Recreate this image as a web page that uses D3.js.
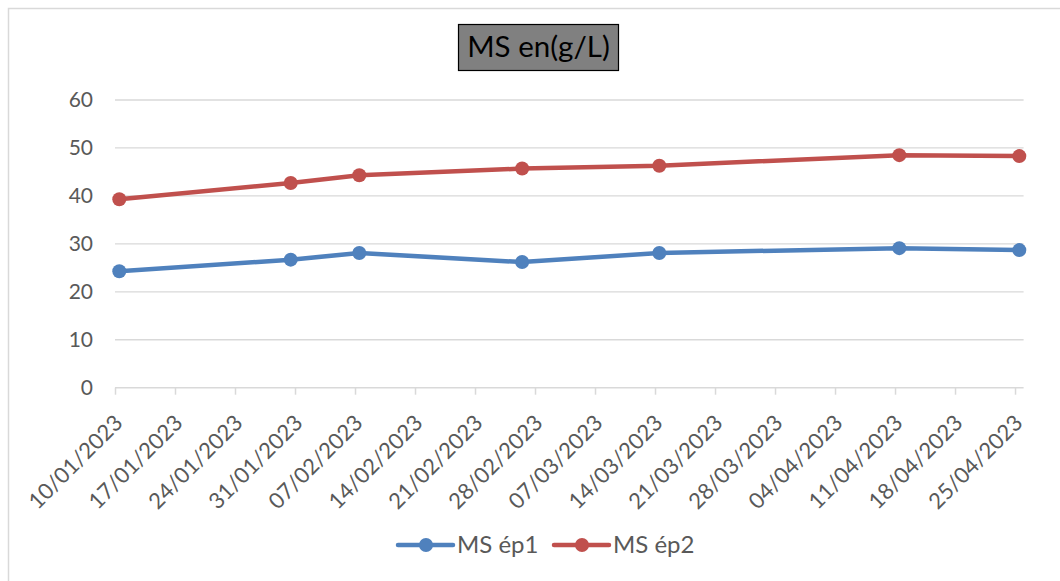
<!DOCTYPE html>
<html>
<head>
<meta charset="utf-8">
<script src="https://cdn.jsdelivr.net/npm/d3@7"></script>
<style>
  body { margin: 0; background: #fff; }
  text { font-family: Lato, "Open Sans", sans-serif; }
</style>
</head>
<body>
<script>
// data
const dates = ['2023-01-10', '2023-01-30', '2023-02-07', '2023-02-26', '2023-03-14', '2023-04-11', '2023-04-25'];
const ms1 = [24.3, 26.7, 28.1, 26.2, 28.1, 29.1, 28.7];
const ms2 = [39.3, 42.7, 44.3, 45.7, 46.3, 48.5, 48.3];
const seriesNames = ['MS ép1', 'MS ép2'];
const seriesColors = ['#4f81bd', '#c0504d'];
const yTicks = [0, 10, 20, 30, 40, 50, 60];
const chartTitle = 'MS en(g/L)';

const W = 1060, H = 581;
const parse = d3.utcParse('%Y-%m-%d');
const fmt = d3.utcFormat('%d/%m/%Y');
const day = 86400000;

const svg = d3.select('body').append('svg')
  .attr('width', W).attr('height', H);

// chart area border
svg.append('rect')
  .attr('x', 8.5).attr('y', 8.5)
  .attr('width', 1100).attr('height', 700)
  .attr('fill', 'none').attr('stroke', '#d9d9d9').attr('stroke-width', 1.5);

const x0 = parse('2023-01-10');
const x1 = new Date(parse('2023-04-25').getTime() + day);
const x = d3.scaleUtc().domain([x0, x1]).range([115, 1023.6]);
const y = d3.scaleLinear().domain([0, 60]).range([387.7, 100]);

// gridlines
svg.append('g')
  .selectAll('line')
  .data(yTicks.slice(1))
  .join('line')
  .attr('x1', 115).attr('x2', 1023.6)
  .attr('y1', d => y(d)).attr('y2', d => y(d))
  .attr('stroke', '#d9d9d9').attr('stroke-width', 1.3);

// y labels
const yAxis = d3.axisLeft(y).tickValues(yTicks).tickSize(0).tickPadding(22);
svg.append('g')
  .attr('transform', 'translate(115,0)')
  .call(yAxis)
  .call(g => g.select('.domain').remove())
  .call(g => g.selectAll('text')
    .attr('fill', '#595959')
    .style('font-size', '21px')
    .style('font-family', 'Lato'));

// x axis, weekly ticks
const weekTicks = d3.utcDay.range(x0, x1, 7);
const xAxis = d3.axisBottom(x).tickValues(weekTicks).tickSize(7).tickFormat(fmt);
svg.append('g')
  .attr('transform', 'translate(0,' + y(0) + ')')
  .call(xAxis)
  .call(g => g.select('.domain').attr('stroke', '#d9d9d9').attr('stroke-width', 1.5)
    .attr('d', 'M115,0H1023.6'))
  .call(g => g.selectAll('.tick line').attr('stroke', '#d9d9d9').attr('stroke-width', 1.5))
  .call(g => g.selectAll('.tick text')
    .attr('fill', '#595959')
    .style('font-size', '22px')
    .style('font-family', 'Lato')
    .attr('text-anchor', 'end')
    .attr('x', 0).attr('y', 0).attr('dy', '0.35em')
    .attr('transform', 'translate(3,31) rotate(-45)'));

// lines
const mid = d => new Date(parse(d).getTime() + day / 2);
[ms1, ms2].forEach((vals, i) => {
  const pts = dates.map((d, j) => [mid(d), vals[j]]);
  svg.append('path')
    .datum(pts)
    .attr('fill', 'none')
    .attr('stroke', seriesColors[i])
    .attr('stroke-width', 4.5)
    .attr('stroke-linejoin', 'round')
    .attr('d', d3.line().x(p => x(p[0])).y(p => y(p[1])));
  svg.append('g')
    .selectAll('circle')
    .data(pts)
    .join('circle')
    .attr('cx', p => x(p[0])).attr('cy', p => y(p[1]))
    .attr('r', 7)
    .attr('fill', seriesColors[i]);
});

// title box
const tg = svg.append('g');
tg.append('rect')
  .attr('x', 458.5).attr('y', 24.5).attr('width', 160).attr('height', 46)
  .attr('fill', '#808080').attr('stroke', '#000').attr('stroke-width', 1.2);
tg.append('text')
  .attr('x', 538.5).attr('y', 47).attr('dy', '0.35em')
  .attr('text-anchor', 'middle')
  .attr('fill', '#000')
  .style('font-size', '29.5px')
  .text(chartTitle);

// legend
const legX = [398, 554];
seriesNames.forEach((name, i) => {
  const g = svg.append('g').attr('transform', 'translate(' + legX[i] + ',545)');
  g.append('line').attr('x1', 0).attr('x2', 55).attr('y1', 0).attr('y2', 0)
    .attr('stroke', seriesColors[i]).attr('stroke-width', 4.5).attr('stroke-linecap', 'round');
  g.append('circle').attr('cx', 28).attr('cy', 0).attr('r', 7).attr('fill', seriesColors[i]);
  g.append('text').attr('x', 59).attr('y', 0).attr('dy', '0.35em')
    .attr('fill', '#595959').style('font-size', '24px').text(name);
});
</script>
</body>
</html>
